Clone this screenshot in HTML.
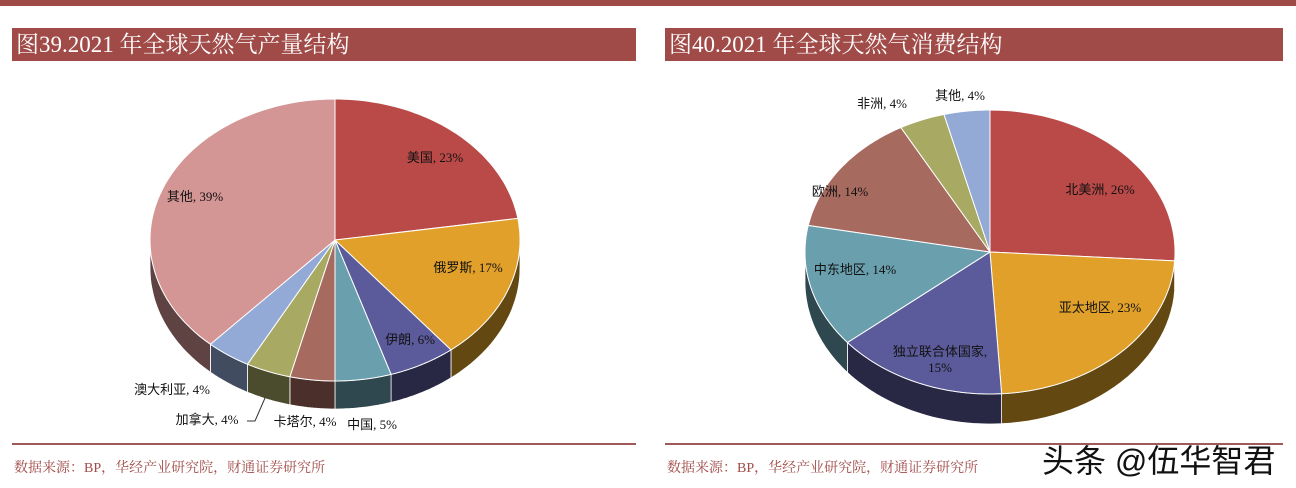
<!DOCTYPE html>
<html><head><meta charset="utf-8">
<style>
body{margin:0;width:1296px;height:488px;background:#fff;overflow:hidden;position:relative;font-family:"Liberation Serif","Noto Serif CJK SC",serif;}
.topbar{position:absolute;left:0;top:0;width:1296px;height:6px;background:#9e4a47;}
.title{position:absolute;top:28px;height:33px;background:#a04b48;color:#fff;font-size:23px;line-height:33px;padding-left:4px;box-sizing:border-box;}
.rule{position:absolute;top:443px;height:2px;background:#a05a5a;}
.src{position:absolute;top:457px;font-size:14px;color:#a04b48;}
.wm{position:absolute;left:1042px;top:436px;font-size:32px;color:#111;font-family:"Liberation Sans","Noto Sans CJK SC",sans-serif;}
svg{position:absolute;left:0;top:0;}
</style></head><body>
<div class="topbar"></div>
<div class="title" style="left:12px;width:624px">图39.2021 年全球天然气产量结构</div>
<div class="title" style="left:665px;width:618px">图40.2021 年全球天然气消费结构</div>
<svg id="chart" width="1296" height="488"></svg>
<div class="rule" style="left:12px;width:624px"></div>
<div class="rule" style="left:665px;width:618px"></div>
<div class="src" style="left:14px">数据来源：BP，华经产业研究院，财通证券研究所</div>
<div class="src" style="left:667px">数据来源：BP，华经产业研究院，财通证券研究所</div>
<div class="wm">头条 @伍华智君</div>
<script>
const prodCategories=["美国","俄罗斯","伊朗","中国","卡塔尔","加拿大","澳大利亚","其他"];
const prodValues=[23,17,6,5,4,4,4,39];
const prodColors=["#b94a48","#e0a02a","#5b5b9b","#6a9fae","#a66a5f","#a8aa64","#93aad6","#d49595"];
const prodLabelPos=[[435,158],[468,268],[410,340],[372,425],[305,422],[207,420],[172,390],[195,197]];
const consCategories=["北美洲","亚太地区","独立联合体国家","中东地区","欧洲","非洲","其他"];
const consValues=[26,23,15,14,14,4,4];
const consColors=["#b94a48","#e0a02a","#5b5b9b","#6a9fae","#a66a5f","#a8aa64","#93aad6"];
const consLabelPos=[[1100,190],[1100,308],[940,352],[855,270],[840,192],[882,104],[960,96]];

const svg=document.getElementById('chart');
const NS='http://www.w3.org/2000/svg';
function darken(hex,f){const n=parseInt(hex.slice(1),16);const r=(n>>16)*f,g=((n>>8)&255)*f,b=(n&255)*f;return `rgb(${r|0},${g|0},${b|0})`;}
function pie(cats,vals,cols,labels,cx,cy,rx,ry,depth,prefix){
  const total=vals.reduce((a,b)=>a+b,0);
  const pt=(a,dy)=>[cx+rx*Math.sin(a),cy-ry*Math.cos(a)+(dy||0)];
  const slices=[];let acc=0;
  vals.forEach((v,i)=>{const a0=acc/total*2*Math.PI;acc+=v;const a1=acc/total*2*Math.PI;slices.push([a0,a1]);});
  slices.forEach(([a0,a1],i)=>{
    const s=Math.max(a0,Math.PI/2),e=Math.min(a1,Math.PI*1.5);
    if(e<=s)return;
    let d='';const N=30;
    for(let k=0;k<=N;k++){const p=pt(s+(e-s)*k/N);d+=(k?'L':'M')+p[0].toFixed(1)+','+p[1].toFixed(1);}
    for(let k=N;k>=0;k--){const p=pt(s+(e-s)*k/N,depth);d+='L'+p[0].toFixed(1)+','+p[1].toFixed(1);}
    const el=document.createElementNS(NS,'path');
    el.setAttribute('d',d+'Z');el.setAttribute('fill',darken(cols[i],0.45));el.setAttribute('stroke','#fff');el.setAttribute('stroke-width','0.8');
    
    
    svg.appendChild(el);
  });
  slices.forEach(([a0,a1],i)=>{
    let d='M'+cx+','+cy;const N=60;
    for(let k=0;k<=N;k++){const p=pt(a0+(a1-a0)*k/N);d+='L'+p[0].toFixed(1)+','+p[1].toFixed(1);}
    const el=document.createElementNS(NS,'path');
    el.setAttribute('d',d+'Z');el.setAttribute('fill',cols[i]);el.setAttribute('stroke','#fff');el.setAttribute('stroke-width','1');
    
    
    svg.appendChild(el);
  });
  cats.forEach((c,i)=>{
    const t=document.createElementNS(NS,'text');
    t.setAttribute('x',labels[i][0]);t.setAttribute('y',labels[i][1]+4);
    t.setAttribute('text-anchor','middle');t.setAttribute('font-size','13');t.setAttribute('fill','#111');
    t.setAttribute('font-family','"Liberation Serif","Noto Sans CJK SC",serif');
    if(c.length>5){
      const s1=document.createElementNS(NS,'tspan');s1.textContent=c+',';
      const s2=document.createElementNS(NS,'tspan');s2.setAttribute('x',labels[i][0]);s2.setAttribute('dy','16');s2.textContent=vals[i]+'%';
      t.appendChild(s1);t.appendChild(s2);
    } else t.textContent=c+', '+vals[i]+'%';
    
    
    svg.appendChild(t);
  });
}
pie(prodCategories,prodValues,prodColors,prodLabelPos,335,240,185,141,28,'production');
pie(consCategories,consValues,consColors,consLabelPos,990,252,185,142,30,'consumption');
const ln=document.createElementNS(NS,'path');
ln.setAttribute('d','M247,421 L255,421 L265,398');ln.setAttribute('stroke','#333');ln.setAttribute('fill','none');


svg.appendChild(ln);
</script>
</body></html>
